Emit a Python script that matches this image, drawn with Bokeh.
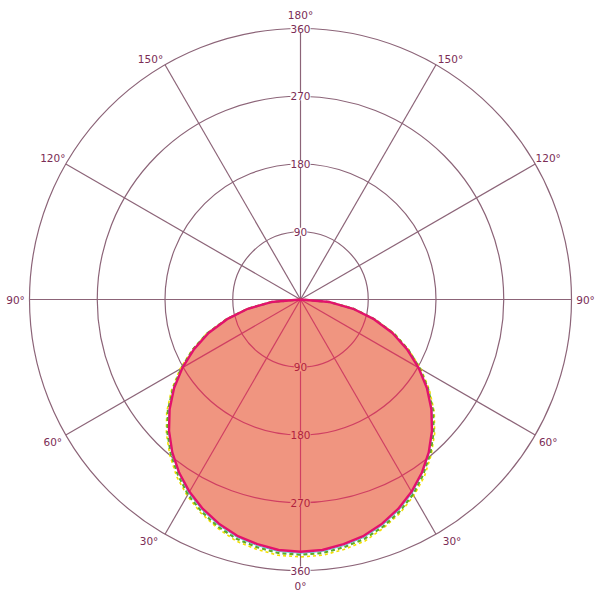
import numpy as np
from bokeh.plotting import figure
from bokeh.models import Label
from bokeh.embed import file_html
from bokeh.resources import INLINE

# ---- data ----
theta_deg = [-90, -85, -80, -75, -70, -65, -60, -55, -50, -45, -40, -35, -30, -25, -20, -15, -10, -5,
             0, 5, 10, 15, 20, 25, 30, 35, 40, 45, 50, 55, 60, 65, 70, 75, 80, 85, 90]
r_main = [0, 39, 71, 101, 130, 156, 181, 205, 227, 247, 265, 281, 295, 307, 317, 325, 330, 334,
          335, 334, 330, 325, 317, 307, 295, 281, 265, 247, 227, 205, 181, 156, 130, 101, 71, 39, 0]
r_green = [0, 39, 72, 102, 132, 158, 183, 207, 230, 250, 268, 284, 299, 311, 321, 329, 334, 338,
           339, 338, 334, 329, 321, 311, 299, 284, 268, 250, 230, 207, 183, 158, 132, 102, 72, 39, 0]
r_yellow = [0, 40, 72, 103, 133, 159, 185, 209, 232, 252, 270, 287, 301, 313, 323, 332, 337, 341,
            342, 341, 337, 332, 323, 313, 301, 287, 270, 252, 232, 209, 185, 159, 133, 103, 72, 40, 0]
r_cyan = [0, 39, 71, 101, 131, 157, 182, 206, 228, 248, 266, 282, 297, 309, 319, 327, 332, 336,
          337, 336, 332, 327, 319, 309, 297, 282, 266, 248, 228, 206, 182, 157, 131, 101, 71, 39, 0]

ring_values = [90, 180, 270, 360]
ring_labels = ["90", "180", "270", "360"]
spoke_deg = [0, 30, 60, 90, 120, 150, 180, 210, 240, 270, 300, 330]
spoke_labels = ["0°", "30°", "60°", "90°", "120°", "150°", "180°", "150°", "120°", "90°", "60°", "30°"]

# ---- styling ----
GRID = "#8c6478"
GRID_IN = "#cf3f62"
FILL = "#f09580"
TXT = "#7b2d55"
TXT_IN = "#b0223f"
FONT = "DejaVu Sans"

W = H = 600
RMAX = 360
PX = 271.0            # pixel radius of outer ring
k = RMAX / PX         # data units per pixel
cx_px, cy_px = 300, 299

p = figure(width=W, height=H, output_backend="svg", toolbar_location=None,
           x_range=(-cx_px * k, (W - cx_px) * k), y_range=(-(H - cy_px) * k, cy_px * k),
           min_border=0, match_aspect=False)
p.axis.visible = False
p.grid.visible = False
p.outline_line_color = None
p.background_fill_color = "white"
p.border_fill_color = "white"

def xy(r, deg):
    t = np.radians(np.asarray(deg, dtype=float))
    r = np.asarray(r, dtype=float)
    return r * np.sin(t), -r * np.cos(t)

# grid rings & spokes
for rv in ring_values:
    p.circle(x=[0], y=[0], radius=rv, fill_color=None, line_color=GRID, line_width=1.2)
sx, sy = xy([RMAX] * len(spoke_deg), spoke_deg)
p.segment(x0=[0] * len(spoke_deg), y0=[0] * len(spoke_deg), x1=list(sx), y1=list(sy),
          line_color=GRID, line_width=1.2)

# filled lobe
mx, my = xy(r_main, theta_deg)
p.patch(x=list(mx), y=list(my), fill_color=FILL, line_color=None)

# grid parts inside the lobe
th = np.array(theta_deg, dtype=float)
rm = np.array(r_main, dtype=float)
half = th >= 0
th_h, r_h = th[half], rm[half]
for rv in ring_values:
    if rv < r_h.max():
        tstar = np.interp(rv, r_h[::-1], th_h[::-1])
        p.arc(x=[0], y=[0], radius=rv, start_angle=np.radians(-90 - tstar),
              end_angle=np.radians(-90 + tstar), direction="anticlock",
              line_color=GRID_IN, line_width=1.2)
for sd in spoke_deg:
    a = ((sd + 180) % 360) - 180
    if abs(a) < 90:
        rr = np.interp(a, th, rm)
        ex, ey = xy([rr], [a])
        p.segment(x0=[0], y0=[0], x1=[ex[0]], y1=[ey[0]], line_color=GRID_IN, line_width=1.2)

# outlines
yx, yy = xy(r_yellow, theta_deg)
p.line(list(yx), list(yy), line_color="#f2e000", line_width=1.6, line_dash="3 3")
gx, gy = xy(r_green, theta_deg)
p.line(list(gx), list(gy), line_color="#5faa28", line_width=2.2, line_dash="4 3")
cxl, cyl = xy(r_cyan, theta_deg)
p.line(list(cxl), list(cyl), line_color="#5ac8e0", line_width=1)
p.line(list(mx), list(my), line_color="#e2126c", line_width=2.4)

# radial labels (along vertical axis)
for rv, lab in zip(ring_values, ring_labels):
    for sgn in (1, -1):
        inside = sgn < 0 and rv < max(r_main)
        p.add_layout(Label(x=0, y=sgn * rv, text=lab, text_align="center", text_baseline="middle",
                           text_font=FONT, text_font_size="10.5px",
                           text_color=TXT_IN if inside else TXT,
                           background_fill_color=FILL if inside else "white",
                           border_line_color=None))

# angle labels
offs = {0: (0, 15), 30: (-16, 7), 60: (-13, 6.5), 90: (-14, 0), 120: (-13, -6.5),
        150: (-14.5, -6), 180: (0, -14)}
for sd, lab in zip(spoke_deg, spoke_labels):
    a = sd if sd <= 180 else 360 - sd
    ox, oy = offs[a]
    side = 1 if sd <= 180 else -1
    px_, py_ = xy([RMAX], [sd])
    lx = px_[0] + side * abs(ox) * k if sd not in (0, 180) else 0
    ly = py_[0] - oy * k
    p.add_layout(Label(x=lx, y=ly, text=lab, text_align="center", text_baseline="middle",
                       text_font=FONT, text_font_size="10.5px", text_color=TXT))

open("out.html", "w").write(file_html(p, INLINE))
